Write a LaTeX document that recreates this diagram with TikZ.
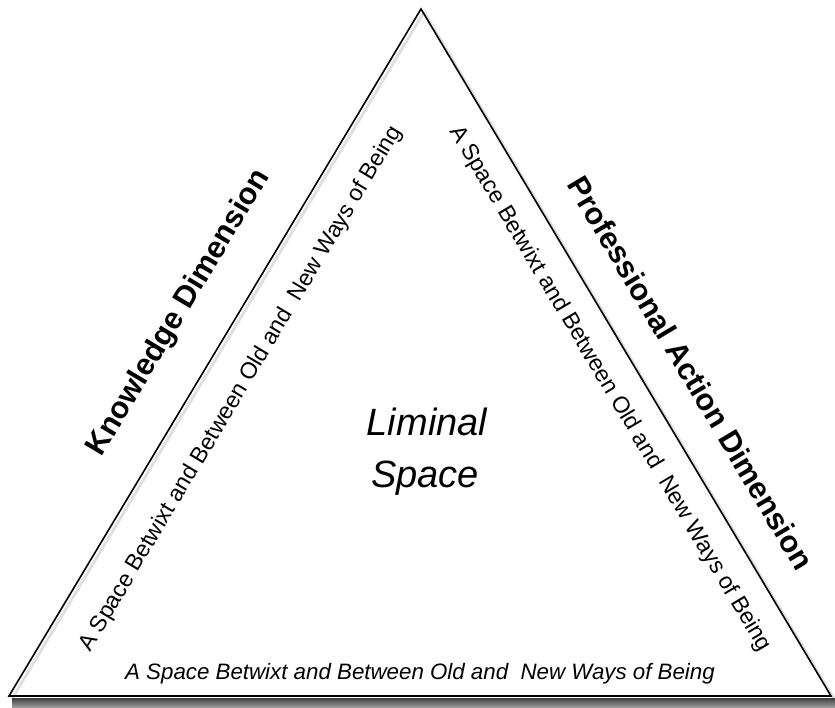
\documentclass[tikz,border=0pt]{standalone}
\usepackage{fontspec}
\setmainfont{Liberation Sans}
\begin{document}
\begin{tikzpicture}[x=1pt,y=-1pt,
  edge/.style={line width=1.6pt,line join=miter},
  shadowline/.style={line width=3pt,draw=black,opacity=0.12},
  dimtext/.style={font=\fontsize{30.5}{34}\selectfont\bfseries,inner sep=0pt},
  sidetext/.style={font=\fontsize{23}{26}\selectfont,inner sep=0pt},
  bottomtext/.style={font=\fontsize{22.3}{26}\selectfont\itshape,inner sep=0pt},
  centertext/.style={font=\fontsize{38}{52}\selectfont\itshape,align=center,inner sep=0pt}]
\useasboundingbox (0,0) rectangle (835,708);
\fill[white] (0,0) rectangle (835,708);
% corners
\coordinate (top) at (421,9);
\coordinate (bl) at (9,696);
\coordinate (br) at (831,696);
% bottom shadow band
\shade[top color=black!75,bottom color=black!35] (12,698) rectangle (835,708);
% soft shadow of the sides
\draw[shadowline] ([shift={(3,3)}]top) -- ([shift={(3,3)}]bl);
\draw[shadowline] ([shift={(3,3)}]top) -- ([shift={(3,3)}]br);
% triangle
\draw[edge] (top) -- (bl) -- (br) -- cycle;
% labels
\node[dimtext,rotate=59.1] (know) at (179,313) {Knowledge Dimension};
\node[dimtext,rotate=-59.2] (prof) at (691,373) {Professional Action Dimension};
\node[sidetext,rotate=59.1] (leftside) at (241,389) {A Space Betwixt and Between Old and \ New Ways of Being};
\node[sidetext,rotate=-59.2] (rightside) at (610,389) {A Space Betwixt and Between Old and \ New Ways of Being};
\node[bottomtext,anchor=base] (bottomside) at (420,679) {A Space Betwixt and Between Old and \ New Ways of Being};
\node[centertext,anchor=base] (lim) at (427,435) {Liminal};
\node[centertext,anchor=base] (spc) at (425,487) {Space};
\end{tikzpicture}
\end{document}
